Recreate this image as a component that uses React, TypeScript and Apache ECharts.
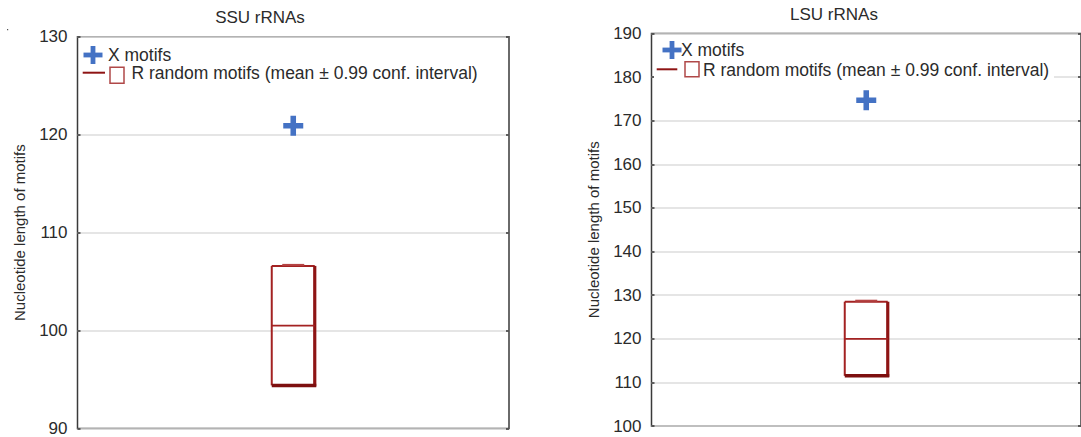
import React, { useEffect, useRef } from "react";
import * as echarts from "echarts";

// ---- data ----
const panelTitles = ["SSU rRNAs", "LSU rRNAs"];
const yAxisName = "Nucleotide length of motifs";
const legendNames = ["X motifs", "R random motifs (mean ± 0.99 conf. interval)"];
const categories = [""];
// X motifs (observed value)
const xMotifs = [120.9, 174.7];
// R random motifs: [lower CI, mean, upper CI]
const rLower = [94.4, 111.5];
const rMean = [100.5, 120.0];
const rUpper = [106.6, 128.5];
// y-axis ranges
const yMin = [90, 100];
const yMax = [130, 190];
const yStep = [10, 10];

const FONT = "'Liberation Sans', Arial, sans-serif";
const BLUE = "#4472C4";
const RED = "#8e1414";
const TEXT = "#2b2b2b";

const plusPath = "path://M6.5,0h5v6.5h6.5v5h-6.5v6.5h-5v-6.5h-6.5v-5h6.5z";

const grids = [
  { left: 77.5, top: 36.7, right: 572, bottom: 7.5, show: true, borderColor: "#3a3a3a", borderWidth: 1.5 },
  { left: 651.5, top: 33.5, right: -3.5, bottom: 11, show: true, borderColor: "#3a3a3a", borderWidth: 1.5 },
];

const legendLayout = [
  { px: 93, py: 55, t1x: 108, lx1: 82.7, lx2: 105, ly: 72.7, sx: 110, sy: 67.3, sw: 14, sh: 16, t2x: 131.5, t2y: 73.3, bgX: 80, bgW: 400 },
  { px: 672, py: 50, t1x: 681, lx1: 656.7, lx2: 677.3, ly: 69.3, sx: 685, sy: 61.7, sw: 14, sh: 15, t2x: 703, t2y: 69.5, bgX: 654, bgW: 400 },
];

const titlePos = [
  { x: 260, y: 17 },
  { x: 834, y: 14 },
];

function buildLegend(i: number): any[] {
  const L = legendLayout[i];
  return [
    { type: "rect", z: 100, shape: { x: L.bgX, y: L.py - 12, width: L.bgW, height: L.t2y - L.py + 24 }, style: { fill: "#ffffff" } },
    { type: "rect", z: 101, shape: { x: L.px - 9.5, y: L.py - 2.4, width: 19, height: 4.8 }, style: { fill: BLUE } },
    { type: "rect", z: 101, shape: { x: L.px - 2.4, y: L.py - 9, width: 4.8, height: 18 }, style: { fill: BLUE } },
    { type: "text", z: 101, x: L.t1x, y: L.py, style: { text: legendNames[0], font: `17.5px ${FONT}`, fill: TEXT, textVerticalAlign: "middle", textAlign: "left" } },
    { type: "line", z: 101, shape: { x1: L.lx1, y1: L.ly, x2: L.lx2, y2: L.ly }, style: { stroke: RED, lineWidth: 2 } },
    { type: "rect", z: 101, shape: { x: L.sx, y: L.sy, width: L.sw, height: L.sh }, style: { fill: "none", stroke: "#b04848", lineWidth: 1.5 } },
    { type: "text", z: 101, x: L.t2x, y: L.t2y, style: { text: legendNames[1], font: `17.5px ${FONT}`, fill: TEXT, textVerticalAlign: "middle", textAlign: "left" } },
  ];
}

function renderBox(params: any, api: any) {
  const x = api.value(0);
  const lo = api.value(1);
  const mean = api.value(2);
  const hi = api.value(3);
  const pLo = api.coord([x, lo]);
  const pHi = api.coord([x, hi]);
  const pM = api.coord([x, mean]);
  const cx = pLo[0];
  const hw = 21.5;
  return {
    type: "group",
    children: [
      { type: "line", shape: { x1: cx - hw, y1: pHi[1], x2: cx - hw, y2: pLo[1] }, style: { stroke: "#a32222", lineWidth: 2 } },
      { type: "line", shape: { x1: cx - hw, y1: pHi[1], x2: cx + hw, y2: pHi[1] }, style: { stroke: "#a32222", lineWidth: 2 } },
      { type: "line", shape: { x1: cx + hw, y1: pHi[1], x2: cx + hw, y2: pLo[1] + 1 }, style: { stroke: RED, lineWidth: 3.2 } },
      { type: "line", shape: { x1: cx - hw, y1: pLo[1], x2: cx + hw + 1.5, y2: pLo[1] }, style: { stroke: "#7d0f0f", lineWidth: 3.5 } },
      { type: "line", shape: { x1: cx - hw, y1: pM[1], x2: cx + hw, y2: pM[1] }, style: { stroke: "#a32222", lineWidth: 1.8 } },
      { type: "line", shape: { x1: cx - 11, y1: pHi[1] - 1, x2: cx + 11, y2: pHi[1] - 1 }, style: { stroke: "#b54444", lineWidth: 2 } },
    ],
  };
}

export default function App() {
  const ref = useRef<HTMLDivElement>(null);
  useEffect(() => {
    if (!ref.current) return;
    const chart = echarts.init(ref.current, null, { renderer: "svg" });
    const xAxes: any[] = [];
    const yAxes: any[] = [];
    const series: any[] = [];
    const graphics: any[] = [];
    for (let i = 0; i < 2; i++) {
      xAxes.push({
        type: "category",
        gridIndex: i,
        data: categories,
        axisLine: { show: false },
        axisTick: { show: false },
        axisLabel: { show: false },
        splitLine: { show: false },
      });
      yAxes.push({
        type: "value",
        gridIndex: i,
        min: yMin[i],
        max: yMax[i],
        interval: yStep[i],
        position: "left",
        name: yAxisName,
        nameLocation: "middle",
        nameRotate: 90,
        nameGap: 51,
        nameTextStyle: { fontSize: 15, fontFamily: FONT, color: TEXT },
        axisLine: { show: false },
        axisTick: { show: true, inside: true, length: 3, lineStyle: { color: "#333", width: 1.5 } },
        axisLabel: { fontSize: 17, fontFamily: FONT, color: TEXT, margin: 10 },
        splitLine: { show: true, lineStyle: { color: "#dcdcdc", width: 1.5 } },
      });
      yAxes.push({
        type: "value",
        gridIndex: i,
        min: yMin[i],
        max: yMax[i],
        interval: yStep[i],
        position: "right",
        axisLine: { show: false },
        axisTick: { show: true, inside: true, length: 3, lineStyle: { color: "#333", width: 1.5 } },
        axisLabel: { show: false },
        splitLine: { show: false },
      });
      series.push({
        type: "custom",
        xAxisIndex: i,
        yAxisIndex: i * 2,
        renderItem: renderBox,
        encode: { x: 0, y: [1, 2, 3] },
        data: [[0, rLower[i], rMean[i], rUpper[i]]],
        z: 5,
      });
      series.push({
        type: "scatter",
        xAxisIndex: i,
        yAxisIndex: i * 2,
        symbol: plusPath,
        symbolSize: 20,
        itemStyle: { color: BLUE, opacity: 1 },
        data: [[0, xMotifs[i]]],
        z: 6,
      });
      graphics.push({
        type: "text",
        x: titlePos[i].x,
        y: titlePos[i].y,
        style: { text: panelTitles[i], font: `17px ${FONT}`, fill: TEXT, textAlign: "center", textVerticalAlign: "middle" },
      });
      graphics.push(...buildLegend(i));
    }
    graphics.push({ type: "rect", shape: { x: 7, y: 29, width: 1.2, height: 1.2 }, style: { fill: "#555" } });

    chart.setOption({
      animation: false,
      backgroundColor: "#ffffff",
      grid: grids,
      xAxis: xAxes,
      yAxis: yAxes,
      series,
      graphic: { elements: graphics },
    });
    return () => chart.dispose();
  }, []);
  return (
    <div
      ref={ref}
      style={{ position: "absolute", left: 0, top: 0, width: 1081, height: 437, overflow: "hidden" }}
    />
  );
}
